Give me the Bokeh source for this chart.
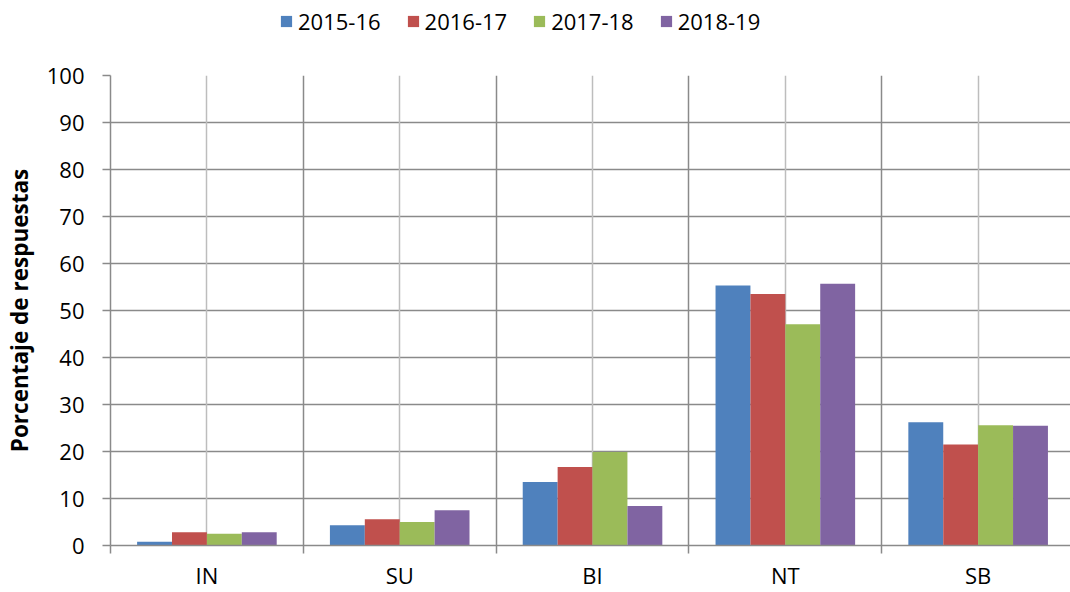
from bokeh.plotting import figure
from bokeh.layouts import column
from bokeh.models import FixedTicker, Grid, Legend, LegendItem, Range1d
from bokeh.embed import file_html
from bokeh.resources import INLINE

categories = ["IN", "SU", "BI", "NT", "SB"]
series = ["2015-16", "2016-17", "2017-18", "2018-19"]
v_2015_16 = [0.8, 4.3, 13.5, 55.3, 26.2]
v_2016_17 = [2.8, 5.6, 16.7, 53.5, 21.5]
v_2017_18 = [2.5, 5.0, 19.9, 47.1, 25.6]
v_2018_19 = [2.8, 7.5, 8.4, 55.7, 25.5]
colors = ["#4F81BD", "#C0504D", "#9BBB59", "#8064A2"]
y_ticks = list(range(0, 101, 10))

FONT = "Open Sans"
GRID = "#8a8a8a"
LEG_H = 40

n = len(categories)
p = figure(width=1070, height=592 - LEG_H, output_backend="svg", toolbar_location=None,
           x_range=Range1d(0, 4.979), y_range=Range1d(0, 100),
           min_border_left=109, min_border_right=0, min_border_top=75 - LEG_H,
           min_border_bottom=47)
p.outline_line_color = None
p.background_fill_color = "white"

centers = [i + 0.5 for i in range(n)]
bounds = list(range(n + 1))
bw = 0.181
data = [v_2015_16, v_2016_17, v_2017_18, v_2018_19]
for k, vals in enumerate(data):
    xs = [c + (k - 1.5) * bw for c in centers]
    p.vbar(x=xs, top=vals, width=bw, bottom=0, fill_color=colors[k],
           line_color=None)

# axes
p.xaxis.ticker = FixedTicker(ticks=centers, minor_ticks=bounds)
p.xaxis.major_label_overrides = {c: categories[i] for i, c in enumerate(centers)}
p.xaxis.major_tick_line_color = None
p.xaxis.minor_tick_line_color = GRID
p.xaxis.minor_tick_in = 0
p.xaxis.minor_tick_out = 8
p.xaxis.minor_tick_line_width = 1.5
p.xaxis.axis_line_color = GRID
p.xaxis.axis_line_width = 1.5
p.xaxis.major_label_text_font = FONT
p.xaxis.major_label_text_font_size = "22px"
p.xaxis.major_label_text_color = "#000000"
p.xaxis.major_label_standoff = 6

p.yaxis.ticker = FixedTicker(ticks=y_ticks)
p.yaxis.minor_tick_line_color = None
p.yaxis.major_tick_in = 0
p.yaxis.major_tick_out = 8
p.yaxis.major_tick_line_color = GRID
p.yaxis.major_tick_line_width = 1.5
p.yaxis.axis_line_color = GRID
p.yaxis.axis_line_width = 1.5
p.yaxis.major_label_text_font = FONT
p.yaxis.major_label_text_font_size = "22px"
p.yaxis.major_label_text_color = "#000000"
p.yaxis.major_label_standoff = 18
p.yaxis.axis_label = "Porcentaje de respuestas"
p.yaxis.axis_label_text_font = FONT
p.yaxis.axis_label_text_font_style = "bold"
p.yaxis.axis_label_text_font_size = "22.5px"
p.yaxis.axis_label_text_color = "#000000"
p.yaxis.axis_label_standoff = 9

# grids
p.xgrid.ticker = FixedTicker(ticks=bounds)
p.xgrid.grid_line_color = GRID
p.xgrid.grid_line_width = 1.5
p.ygrid.ticker = FixedTicker(ticks=y_ticks)
p.ygrid.grid_line_color = GRID
p.ygrid.grid_line_width = 1.5
cgrid = Grid(dimension=0, ticker=FixedTicker(ticks=centers),
             grid_line_color="#bdbdbd", grid_line_width=1.5)
p.add_layout(cgrid)
for g in [p.xgrid[0], p.ygrid[0], cgrid]:
    g.level = "underlay"

# legend strip
lf = figure(width=1070, height=LEG_H, output_backend="svg", toolbar_location=None,
            x_range=Range1d(0, 1), y_range=Range1d(0, 1),
            x_axis_type=None, y_axis_type=None, min_border=0)
lf.outline_line_color = None
lf.grid.visible = False
items = []
for k, name in enumerate(series):
    r = lf.vbar(x=[5], top=[1], width=0.1, fill_color=colors[k], line_color=None)
    items.append(LegendItem(label=name, renderers=[r]))
legend = Legend(items=items, orientation="horizontal", location=(169, 4),
                glyph_width=14, glyph_height=14, label_standoff=5, spacing=25,
                padding=0, margin=0, border_line_color=None,
                background_fill_alpha=0,
                label_text_font=FONT, label_text_font_size="22px",
                label_text_color="#000000")
lf.add_layout(legend, "center")

layout = column(lf, p, spacing=0)
open("out.html", "w").write(file_html(layout, INLINE))
